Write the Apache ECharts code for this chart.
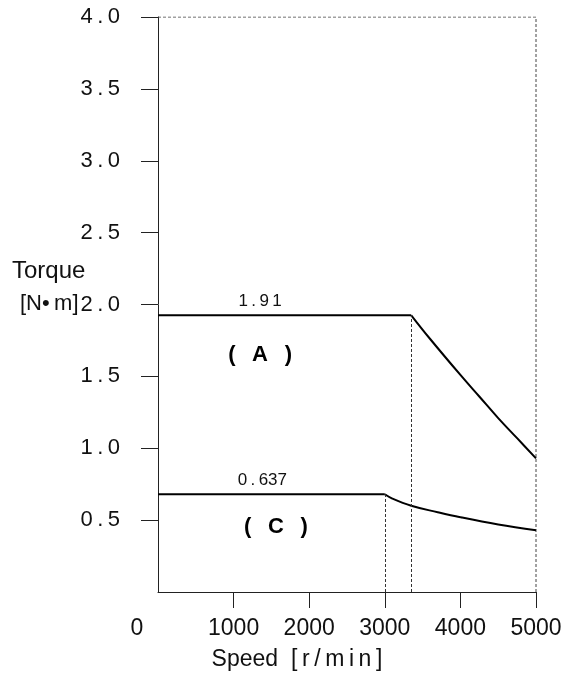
<!DOCTYPE html>
<html>
<head>
<meta charset="utf-8">
<script src="https://cdn.jsdelivr.net/npm/echarts@6/dist/echarts.min.js"></script>
<style>
  html, body { margin: 0; padding: 0; background: #fff; }
  #chart { width: 578px; height: 679px; }
</style>
</head>
<body>
<div id="chart"></div>
<script>
// curve (A): flat rated torque, then falls off above ~3350 r/min
var curveA = [[0, 1.925], [3350, 1.925], [3600, 1.76], [4000, 1.51], [4250, 1.36], [4500, 1.21], [4750, 1.07], [5000, 0.93]];
// curve (C): flat up to 3000 r/min, then falls off
var curveC = [[0, 0.68], [3000, 0.68], [3100, 0.65], [3350, 0.60], [3700, 0.555], [4000, 0.52], [4500, 0.47], [5000, 0.43]];
// dotted frame on top and right
var frame = [[0, 4], [5000, 4], [5000, 0]];
var xTicks = [0, 1000, 2000, 3000, 4000, 5000];
var yTicks = [0.5, 1.0, 1.5, 2.0, 2.5, 3.0, 3.5, 4.0];
var labelA = '1.91', labelC = '0.637';

var FONT = "'Liberation Sans', Arial, sans-serif";
var TS = '\u2009'; // thin space, the source uses wide letter spacing

function spaced(s) {
    return s.split('').join(TS);
}

function tag(letter) {
    return '(  ' + TS + letter + '  ' + TS + ')';
}

var chart = echarts.init(document.getElementById('chart'));

var dashed = { color: '#333', width: 1, type: [3, 2] };

var option = {
    animation: false,
    grid: { left: 158, top: 17, right: 42, bottom: 87 },
    xAxis: {
        type: 'value',
        min: 0,
        max: 5000,
        interval: 1000,
        splitLine: { show: false },
        axisLine: { lineStyle: { color: '#222', width: 1 } },
        axisTick: { customValues: xTicks.slice(1), length: 16, lineStyle: { color: '#222' } },
        axisLabel: {
            customValues: xTicks,
            margin: 25,
            fontSize: 23,
            fontFamily: FONT,
            color: '#111',
            formatter: function (v) {
                return v === 0 ? '{z|0}' : String(v);
            },
            rich: {
                z: { padding: [0, 42, 0, 0], fontSize: 23, fontFamily: FONT, color: '#111' }
            }
        },
        name: 'Speed  [' + TS + 'r' + TS + '/' + TS + 'm' + TS + 'i' + TS + 'n' + TS + ']',
        nameLocation: 'middle',
        nameGap: 56,
        nameTextStyle: { fontSize: 23, fontFamily: FONT, color: '#111', padding: [0, 100, 0, 0] }
    },
    yAxis: {
        type: 'value',
        min: 0,
        max: 4,
        interval: 0.5,
        splitLine: { show: false },
        axisLine: { lineStyle: { color: '#222', width: 1 } },
        axisTick: { customValues: yTicks, length: 17, lineStyle: { color: '#222' } },
        axisLabel: {
            customValues: yTicks,
            margin: 38,
            fontSize: 22,
            fontFamily: FONT,
            color: '#111',
            formatter: function (v) { return spaced(v.toFixed(1)); }
        }
    },
    graphic: [
        { type: 'text', left: 12, top: 259, style: { text: 'Torque', fontSize: 24, fontFamily: FONT, fill: '#111' } },
        { type: 'text', left: 20, top: 293, style: { text: '[N\u2022' + TS + 'm]', fontSize: 22, fontFamily: FONT, fill: '#111' } }
    ],
    series: [
        {
            name: 'frame',
            type: 'line',
            data: frame,
            symbol: 'none',
            silent: true,
            lineStyle: { color: '#444', width: 1, type: [3, 2] }
        },
        {
            name: 'A flat',
            type: 'line',
            data: curveA.slice(0, 2),
            symbol: 'none',
            lineStyle: { color: '#000', width: 2 },
            markLine: {
                silent: true,
                symbol: 'none',
                label: { show: false },
                lineStyle: dashed,
                data: [[{ coord: [curveA[1][0], 0] }, { coord: curveA[1] }]]
            },
            markPoint: {
                symbol: 'circle',
                symbolSize: 0,
                data: [
                    { coord: [1350, curveA[0][1]], label: { show: true, position: 'top', distance: 5, formatter: spaced(labelA), fontSize: 17, fontFamily: FONT, color: '#111' } },
                    { coord: [1350, 1.65], label: { show: true, position: 'inside', formatter: tag('A'), fontSize: 22, fontWeight: 'bold', fontFamily: FONT, color: '#000' } }
                ]
            }
        },
        {
            name: 'A',
            type: 'line',
            data: curveA.slice(1),
            symbol: 'none',
            smooth: 0.4,
            lineStyle: { color: '#000', width: 2 }
        },
        {
            name: 'C flat',
            type: 'line',
            data: curveC.slice(0, 2),
            symbol: 'none',
            lineStyle: { color: '#000', width: 2 },
            markLine: {
                silent: true,
                symbol: 'none',
                label: { show: false },
                lineStyle: dashed,
                data: [[{ coord: [curveC[1][0], 0] }, { coord: curveC[1] }]]
            },
            markPoint: {
                symbol: 'circle',
                symbolSize: 0,
                data: [
                    { coord: [1380, curveC[0][1]], label: { show: true, position: 'top', distance: 5, formatter: '0' + TS + '.' + TS + '637', fontSize: 17, fontFamily: FONT, color: '#111' } },
                    { coord: [1560, 0.452], label: { show: true, position: 'inside', formatter: tag('C'), fontSize: 22, fontWeight: 'bold', fontFamily: FONT, color: '#000' } }
                ]
            }
        },
        {
            name: 'C',
            type: 'line',
            data: curveC.slice(1),
            symbol: 'none',
            smooth: 0.4,
            lineStyle: { color: '#000', width: 2 }
        }
    ]
};

chart.setOption(option);
window.addEventListener('resize', function () { chart.resize(); });
</script>
</body>
</html>
